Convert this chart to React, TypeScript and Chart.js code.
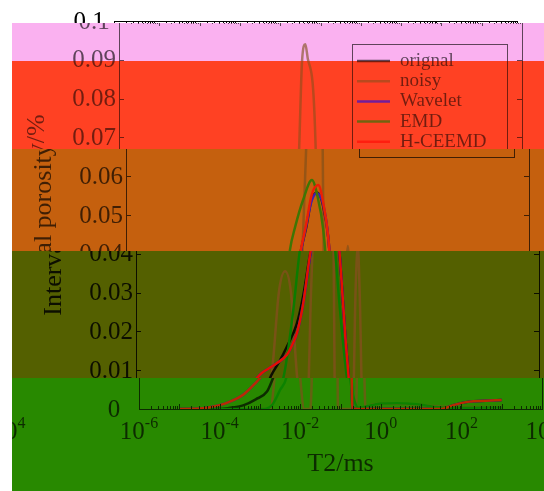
import React, { useEffect, useRef } from 'react';
import { Chart, registerables } from 'chart.js';

Chart.register(...registerables);

// ---------------- data ----------------
const seriesLabels = ['orignal', 'noisy', 'Wavelet', 'EMD', 'H-CEEMD'];
const seriesColors = ['#000000', '#80501A', '#0000FF', '#008000', '#FF0000'];

const orignalT2 = [1e-5, 1e-4, 1.6e-4, 4e-4, 7.9e-4, 1.5e-3, 2.3e-3, 3.5e-3, 5.5e-3, 9.8e-3, 1.4e-2, 2.1e-2, 3e-2, 4e-2, 5.6e-2, 7.9e-2, 0.105, 0.126, 0.158, 0.186, 0.19, 0.195, 31.6, 63, 158, 398, 1000];
const orignalPor = [0, 0, 0.0002, 0.001, 0.0025, 0.0045, 0.0088, 0.012, 0.016, 0.022, 0.029, 0.04, 0.047, 0.054, 0.0558, 0.052, 0.044, 0.033, 0.018, 0.009, 0.0075, 0, 0, 0.001, 0.0019, 0.0021, 0.0023];

const noisyT2 = [1e-5, 1e-3, 1.8e-3, 2.5e-3, 3.5e-3, 5e-3, 7e-3, 1e-2, 1.26e-2, 1.78e-2, 2.2e-2, 2.95e-2, 3.5e-2, 4.2e-2, 4.9e-2, 7.6e-2, 8.3e-2, 8.7e-2, 0.24, 0.28, 0.32, 0.355, 0.42, 0.5, 1.6, 6.3, 32, 320, 1000];
const noisyPor = [0, 0, 0, 0.012, 0.03, 0.0355, 0.03, 0.008, 0, 0, 0.03, 0.067, 0.09, 0.094, 0.09, 0.067, 0.02, 0, 0, 0.03, 0.042, 0.03, 0, 0.0008, 0.0014, 0.0012, 0.0006, 0.0005, 0.0005];

const waveletT2 = [1e-5, 3.2e-5, 1e-4, 1.8e-4, 4e-4, 8.3e-4, 1.3e-3, 2e-3, 3.1e-3, 5.5e-3, 7.9e-3, 9.8e-3, 1.4e-2, 2.1e-2, 3e-2, 4e-2, 5.4e-2, 7.9e-2, 0.105, 0.126, 0.158, 0.186, 0.19, 0.195, 31.6, 63, 158, 398, 1000];
const waveletPor = [0, 0.0001, 0.001, 0.0019, 0.0038, 0.007, 0.0092, 0.0105, 0.0118, 0.0139, 0.017, 0.0195, 0.027, 0.0395, 0.0475, 0.0535, 0.0556, 0.0525, 0.044, 0.033, 0.018, 0.009, 0.0075, 0, 0, 0.001, 0.0019, 0.0021, 0.0023];

const emdT2 = [1e-5, 1.26e-3, 2e-3, 3.2e-3, 4.6e-3, 7.9e-3, 1.17e-2, 1.58e-2, 2.5e-2, 4.1e-2, 5.6e-2, 7.9e-2, 0.112, 0.17, 0.224, 0.28, 0.5, 1, 2.5, 7.9, 20, 40, 100, 1000];
const emdPor = [0, 0, 0.001, 0.005, 0.0083, 0.025, 0.041, 0.047, 0.054, 0.059, 0.055, 0.046, 0.027, 0.0083, 0.002, 0.0003, 0.0008, 0.0014, 0.0015, 0.0012, 0.0006, 0.0003, 0.0003, 0.0004];

const hceemdT2 = [1e-5, 3.2e-5, 1e-4, 1.8e-4, 4e-4, 8.3e-4, 1.3e-3, 2e-3, 3.1e-3, 5.5e-3, 7.9e-3, 9.8e-3, 1.4e-2, 2.1e-2, 3e-2, 4e-2, 5.9e-2, 7.9e-2, 0.105, 0.126, 0.158, 0.186, 0.19, 0.195, 31.6, 63, 158, 398, 1000];
const hceemdPor = [0, 0.0001, 0.001, 0.0019, 0.0038, 0.007, 0.0092, 0.0105, 0.0118, 0.0139, 0.017, 0.0195, 0.027, 0.04, 0.048, 0.055, 0.0577, 0.053, 0.044, 0.033, 0.018, 0.009, 0.0075, 0, 0, 0.001, 0.0019, 0.0021, 0.0023];

const yTickValues = [0, 0.01, 0.02, 0.03, 0.04, 0.05, 0.06, 0.07, 0.08, 0.09, 0.1];
const yTickLabels = ['0', '0.01', '0.02', '0.03', '0.04', '0.05', '0.06', '0.07', '0.08', '0.09', '0.1'];
const xTickExponents = [-6, -4, -2, 0, 2, 4];
const xLabelBase = '10';
const xTitle = 'T2/ms';
const yTitle = 'Interval porosity/%';

// ---------------- look ----------------
const W = 544;
const H = 491;
const SERIF = "'Liberation Serif', 'Times New Roman', serif";
const WRAP = 533;
const bands = [
  { y0: 0, y1: 23, x0: 0, dx: -5, color: '', gamma: 1 },
  { y0: 23, y1: 61, x0: 12, dx: 0, color: '#FAB1F0', gamma: 0.62 },
  { y0: 61, y1: 149, x0: 12, dx: 0, color: '#FF4123', gamma: 0.55 },
  { y0: 149, y1: 251, x0: 12, dx: 7, color: '#C5600E', gamma: 0.68 },
  { y0: 251, y1: 378, x0: 12, dx: 17, color: '#546000', gamma: 0.85 },
  { y0: 378, y1: 491, x0: 12, dx: 20, color: '#288900', gamma: 0.68 },
];

const series = [
  { t2: orignalT2, por: orignalPor, order: 4 },
  { t2: noisyT2, por: noisyPor, order: 5 },
  { t2: waveletT2, por: waveletPor, order: 3 },
  { t2: emdT2, por: emdPor, order: 2 },
  { t2: hceemdT2, por: hceemdPor, order: 1 },
];

const decorPlugin = {
  id: 'decor',
  afterDatasetsDraw(chart: any) {
    const ctx = chart.ctx;
    const { left, right, top, bottom } = chart.chartArea;
    const xs = chart.scales.x;
    const ys = chart.scales.y;
    ctx.save();
    ctx.strokeStyle = '#000';
    ctx.lineWidth = 1;
    ctx.strokeRect(Math.round(left) + 0.5, Math.round(top) + 0.5, Math.round(right - left), Math.round(bottom - top));
    ctx.beginPath();
    for (const v of yTickValues) {
      const py = Math.round(ys.getPixelForValue(v)) + 0.5;
      ctx.moveTo(left, py); ctx.lineTo(left + 5, py);
      ctx.moveTo(right, py); ctx.lineTo(right - 5, py);
    }
    const lo = Math.round(Math.log10(xs.min));
    const hi = Math.round(Math.log10(xs.max));
    for (let e = lo; e <= hi; e++) {
      for (let k = 1; k <= 9; k++) {
        const v = k * Math.pow(10, e);
        if (v > xs.max * 1.0001) break;
        const px = Math.round(xs.getPixelForValue(v)) + 0.5;
        const len = k === 1 ? 5 : 3;
        ctx.moveTo(px, bottom); ctx.lineTo(px, bottom - len);
        ctx.moveTo(px, top); ctx.lineTo(px, top + len);
      }
    }
    ctx.stroke();

    // y tick labels (centre aligned, as in the figure)
    ctx.fillStyle = '#000';
    ctx.font = `25px ${SERIF}`;
    ctx.textAlign = 'center';
    ctx.textBaseline = 'middle';
    yTickValues.forEach((v, i) => {
      ctx.fillText(yTickLabels[i], left - 25, ys.getPixelForValue(v) + 1);
    });

    // x tick labels with superscripts
    ctx.textBaseline = 'alphabetic';
    ctx.textAlign = 'left';
    for (const e of xTickExponents) {
      const px = xs.getPixelForValue(Math.pow(10, e));
      ctx.font = `25px ${SERIF}`;
      const wb = ctx.measureText(xLabelBase).width;
      ctx.font = `16px ${SERIF}`;
      const sup = String(e);
      const ws = ctx.measureText(sup).width;
      const x0 = px - (wb + ws) / 2;
      ctx.font = `25px ${SERIF}`;
      ctx.fillText(xLabelBase, x0, bottom + 30);
      ctx.font = `16px ${SERIF}`;
      ctx.fillText(sup, x0 + wb, bottom + 19);
    }

    // legend
    ctx.lineWidth = 1;
    ctx.strokeStyle = '#000';
    ctx.strokeRect(352.5, 44.5, 155, 113);
    ctx.font = `19px ${SERIF}`;
    ctx.textBaseline = 'middle';
    chart.data.datasets.forEach((ds: any, i: number) => {
      const y = 61 + i * 20.2;
      ctx.strokeStyle = ds.borderColor;
      ctx.lineWidth = 2.5;
      ctx.beginPath();
      ctx.moveTo(357, y); ctx.lineTo(390, y);
      ctx.stroke();
      ctx.fillStyle = '#000';
      ctx.fillText(ds.label, 400, y);
    });
    ctx.restore();
  },
  afterDraw(chart: any) {
    const canvas = chart.canvas as HTMLCanvasElement;
    const snap = document.createElement('canvas');
    snap.width = canvas.width;
    snap.height = canvas.height;
    snap.getContext('2d')!.drawImage(canvas, 0, 0);
    const ctx = chart.ctx as CanvasRenderingContext2D;
    ctx.save();
    ctx.setTransform(1, 0, 0, 1, 0, 0);
    ctx.clearRect(0, 0, W, H);
    ctx.fillStyle = '#fff';
    ctx.fillRect(0, 0, W, H);
    for (const b of bands) {
      ctx.save();
      ctx.beginPath();
      ctx.rect(b.x0, b.y0, W - b.x0, b.y1 - b.y0);
      ctx.clip();
      if (b.color) {
        ctx.fillStyle = b.color;
        ctx.fillRect(b.x0, b.y0, W - b.x0, b.y1 - b.y0);
      }
      ctx.globalAlpha = b.gamma;
      ctx.drawImage(snap, b.dx, 0);
      if (b.dx > 0) ctx.drawImage(snap, b.dx - WRAP, 0);
      ctx.restore();
    }
    ctx.restore();
  },
};

export default function App() {
  const ref = useRef<HTMLCanvasElement>(null);
  useEffect(() => {
    document.body.style.margin = '0';
    const canvas = ref.current!;
    const chart = new Chart(canvas, {
      type: 'line',
      data: {
        datasets: series.map((s, i) => ({
          label: seriesLabels[i],
          data: s.t2.map((t, j) => ({ x: t, y: s.por[j] })),
          borderColor: seriesColors[i],
          backgroundColor: seriesColors[i],
          borderWidth: 2.5,
          pointRadius: 0,
          fill: false,
          cubicInterpolationMode: 'monotone' as const,
          order: s.order,
        })),
      },
      options: {
        responsive: false,
        animation: false,
        devicePixelRatio: 1,
        layout: { padding: { left: 0, top: 21, right: 22, bottom: 0 } },
        plugins: { legend: { display: false }, tooltip: { enabled: false } },
        scales: {
          x: {
            type: 'logarithmic',
            min: 1e-6,
            max: 1e4,
            grid: { display: false, drawTicks: false },
            border: { display: false },
            ticks: { display: false },
            title: { display: true, text: xTitle, color: '#000', font: { family: SERIF, size: 26 }, padding: { top: 0, bottom: 11 } },
            afterFit: (s: any) => { s.height = 82; },
          },
          y: {
            type: 'linear',
            min: 0,
            max: 0.1,
            grid: { display: false, drawTicks: false },
            border: { display: false },
            afterBuildTicks: (s: any) => { s.ticks = yTickValues.map((v) => ({ value: v })); },
            ticks: { display: false },
            title: { display: true, text: yTitle, color: '#000', font: { family: SERIF, size: 26 }, padding: { top: 22, bottom: 0 } },
            afterFit: (s: any) => { s.width = 119; },
          },
        },
      },
      plugins: [decorPlugin],
    });
    return () => chart.destroy();
  }, []);
  return <canvas ref={ref} width={W} height={H} style={{ display: 'block' }} />;
}
